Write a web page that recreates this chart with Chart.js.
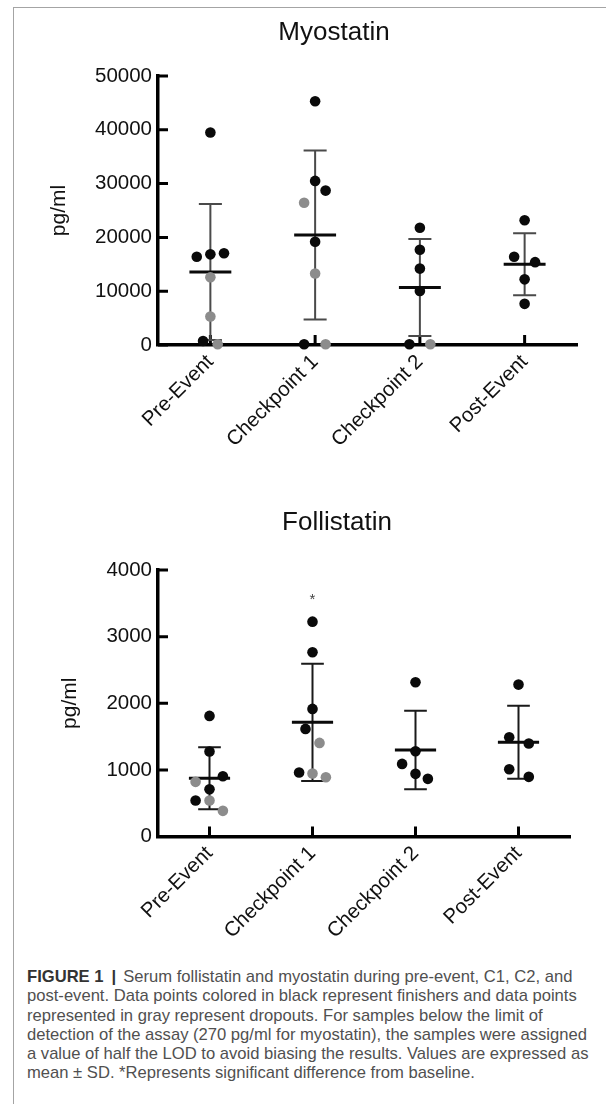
<!DOCTYPE html>
<html lang="en">
<head>
<meta charset="UTF-8">
<title>Figure 1 - Myostatin and Follistatin</title>
<style>
    * {
        margin: 0;
        padding: 0;
        box-sizing: border-box;
    }

    body {
        width: 606px;
        height: 1104px;
        background: #fff;
        position: relative;
        overflow: hidden;
        font-family: 'Liberation Sans', Arial, sans-serif;
    }

    /* thin gray frame round the figure */
    .frame {
        position: absolute;
        left: 13px;
        top: 7px;
        width: 640px;
        height: 1140px;
        border-top: 1px solid #a4a4a4;
        border-left: 1px solid #a4a4a4;
    }

    .chart-box {
        position: absolute;
        left: 0;
        width: 606px;
    }

    #myoBox { top: 0; height: 470px; }
    #follBox { top: 480px; height: 480px; }

    .caption {
        position: absolute;
        left: 27px;
        top: 967px;
        font-size: 16.6px;
        line-height: 19.3px;
        color: #505050;
        white-space: nowrap;
    }

    .caption b {
        color: #333;
    }

    .caption .bar {
        font-weight: bold;
        color: #333;
        margin: 0 7px 0 8px;
    }
</style>
</head>
<body>

<div class="frame"></div>

<div class="chart-box" id="myoBox"><canvas id="myoChart"></canvas></div>
<div class="chart-box" id="follBox"><canvas id="follChart"></canvas></div>

<div class="caption"><b>FIGURE 1</b><span class="bar">|</span>Serum follistatin and myostatin during pre-event, C1, C2, and<br>post-event. Data points colored in black represent finishers and data points<br>represented in gray represent dropouts. For samples below the limit of<br>detection of the assay (270 pg/ml for myostatin), the samples were assigned<br>a value of half the LOD to avoid biasing the results. Values are expressed as<br>mean ± SD. *Represents significant difference from baseline.</div>

<script src="https://cdn.jsdelivr.net/npm/chart.js"></script>
<script>
    const categories = ['Pre-Event', 'Checkpoint 1', 'Checkpoint 2', 'Post-Event'];

    // Myostatin (pg/ml), one list per time point
    const myoFinishers = [
        [39500, 16400, 16850, 17050, 750],
        [45300, 30500, 28700, 19200, 135],
        [21800, 17700, 14200, 10050, 135],
        [23200, 16400, 15400, 12200, 7650]
    ];
    const myoDropouts = [
        [12600, 5300, 135],
        [26450, 13300, 135],
        [135],
        []
    ];
    const myoMean = [13570, 20450, 10680, 15000];
    const myoSD = [12650, 15700, 9030, 5750];
    const myoTicks = [0, 10000, 20000, 30000, 40000, 50000];

    // Follistatin (pg/ml)
    const follFinishers = [
        [1810, 1275, 905, 710, 540],
        [3225, 2765, 1915, 1615, 960],
        [2315, 1280, 1090, 940, 865],
        [2280, 1490, 1395, 1010, 895]
    ];
    const follDropouts = [
        [820, 540, 385],
        [1405, 945, 890],
        [],
        []
    ];
    const follMean = [874, 1714, 1298, 1415];
    const follSD = [466, 880, 590, 548];
    const follTicks = [0, 1000, 2000, 3000, 4000];
    const follSignificant = ['', '*', '', ''];

    // horizontal scatter of the dots (fraction of a category), kept apart from the values
    const myoFinJitter = [[0, -0.13, 0, 0.13, -0.07], [0, 0, 0.1, 0, -0.105], [0, 0, 0, 0, -0.1], [0, -0.1, 0.1, 0, 0]];
    const myoDropJitter = [[0, 0, 0.07], [-0.105, 0, 0.1], [0.1], []];
    const follFinJitter = [[0, 0, 0.13, 0, -0.135], [0, 0, 0, -0.068, -0.13], [0, 0, -0.13, 0, 0.12], [0, -0.09, 0.1, -0.09, 0.1]];
    const follDropJitter = [[-0.135, 0, 0.13], [0.068, 0, 0.13], [], []];

    const FONT = "'Liberation Sans', Arial, sans-serif";
    Chart.defaults.font.family = FONT;
    Chart.defaults.color = '#111';

    function toPoints(groups, jitter) {
        const pts = [];
        groups.forEach((vals, i) => vals.forEach((v, k) => pts.push({ x: i + jitter[i][k], y: v })));
        return pts;
    }

    function meanSegments(mean) {
        const pts = [];
        mean.forEach((m, i) => pts.push({ x: i - 0.2, y: m }, { x: i + 0.2, y: m }, { x: i, y: null }));
        return pts;
    }

    function sdSegments(mean, sd) {
        const pts = [];
        mean.forEach((m, i) => {
            const hi = m + sd[i], lo = m - sd[i];
            pts.push({ x: i, y: lo }, { x: i, y: hi }, { x: i, y: null });
            pts.push({ x: i - 0.11, y: hi }, { x: i + 0.11, y: hi }, { x: i, y: null });
            pts.push({ x: i - 0.11, y: lo }, { x: i + 0.11, y: lo }, { x: i, y: null });
        });
        return pts;
    }

    // ticks pointing into the plot, title, and significance marks
    const prismBits = {
        id: 'prismBits',
        beforeDatasetsDraw(chart) {
            const { ctx, chartArea, scales: { x, y } } = chart;
            ctx.save();
            ctx.strokeStyle = '#000';
            ctx.lineWidth = 3;
            ctx.beginPath();
            x.ticks.forEach(t => {
                const px = x.getPixelForValue(t.value);
                ctx.moveTo(px, chartArea.bottom);
                ctx.lineTo(px, chartArea.bottom - 10);
            });
            y.ticks.forEach(t => {
                const py = y.getPixelForValue(t.value);
                ctx.moveTo(chartArea.left, py);
                ctx.lineTo(chartArea.left + 10, py);
            });
            ctx.stroke();
            ctx.restore();
        },
        afterDraw(chart, args, opts) {
            const { ctx, scales: { x, y } } = chart;
            ctx.save();
            ctx.fillStyle = '#111';
            ctx.textAlign = 'center';
            ctx.textBaseline = 'middle';
            ctx.font = '26px ' + FONT;
            ctx.fillText(opts.title, opts.titleX, opts.titleY);
            if (opts.marks) {
                ctx.font = '15px ' + FONT;
                ctx.fillStyle = '#444';
                opts.marks.forEach((m, i) => {
                    if (!m) return;
                    const top = Math.max(...opts.finishers[i], ...opts.dropouts[i]);
                    ctx.fillText(m, x.getPixelForValue(i), y.getPixelForValue(top) - 22);
                });
            }
            ctx.restore();
        }
    };

    function makeChart(id, cfg) {
        return new Chart(document.getElementById(id), {
            type: 'scatter',
            data: {
                datasets: [
                    {
                        label: 'Finishers',
                        data: toPoints(cfg.finishers, cfg.finJitter),
                        backgroundColor: '#0a0a0a',
                        borderWidth: 0,
                        pointRadius: 5.3,
                        order: 0
                    },
                    {
                        label: 'Dropouts',
                        data: toPoints(cfg.dropouts, cfg.dropJitter),
                        backgroundColor: '#8c8c8c',
                        borderWidth: 0,
                        pointRadius: 5.3,
                        order: 1
                    },
                    {
                        label: 'Mean',
                        data: meanSegments(cfg.mean),
                        showLine: true,
                        spanGaps: false,
                        borderColor: '#0a0a0a',
                        borderWidth: 3,
                        pointRadius: 0,
                        order: 2
                    },
                    {
                        label: 'SD',
                        data: sdSegments(cfg.mean, cfg.sd),
                        showLine: true,
                        spanGaps: false,
                        borderColor: cfg.sdColor,
                        borderWidth: 2,
                        pointRadius: 0,
                        order: 3
                    }
                ]
            },
            options: {
                responsive: true,
                maintainAspectRatio: false,
                animation: false,
                clip: false,
                layout: { padding: { top: cfg.top, right: cfg.right, left: 0, bottom: 0 } },
                plugins: {
                    legend: { display: false },
                    tooltip: { enabled: false },
                    prismBits: {
                        title: cfg.title, titleX: cfg.titleX, titleY: cfg.titleY,
                        marks: cfg.marks, finishers: cfg.finishers, dropouts: cfg.dropouts
                    }
                },
                scales: {
                    x: {
                        type: 'linear',
                        min: -0.5,
                        max: categories.length - 0.5,
                        afterBuildTicks: s => { s.ticks = categories.map((c, i) => ({ value: i })); },
                        afterFit: s => { s.height = cfg.xHeight; },
                        grid: { drawOnChartArea: false, drawTicks: false },
                        border: { display: true, color: '#000', width: 3.5 },
                        ticks: {
                            callback: v => categories[v],
                            minRotation: 45,
                            maxRotation: 45,
                            padding: 5,
                            color: '#111',
                            font: { size: 20.5 }
                        }
                    },
                    y: {
                        min: 0,
                        max: cfg.ticks[cfg.ticks.length - 1],
                        afterBuildTicks: s => { s.ticks = cfg.ticks.map(v => ({ value: v })); },
                        afterFit: s => { s.width = 158; },
                        grid: { drawOnChartArea: false, drawTicks: false },
                        border: { display: true, color: '#000', width: 3.5 },
                        ticks: { callback: v => String(v), padding: 6, color: '#111', font: { size: 20.5 } },
                        title: {
                            display: true,
                            text: 'pg/ml',
                            color: '#111',
                            font: { size: 21 },
                            padding: { top: cfg.yTitlePad, bottom: 0 }
                        }
                    }
                }
            },
            plugins: [prismBits]
        });
    }

    makeChart('myoChart', {
        title: 'Myostatin', titleX: 334, titleY: 33,
        finishers: myoFinishers, dropouts: myoDropouts,
        finJitter: myoFinJitter, dropJitter: myoDropJitter,
        mean: myoMean, sd: myoSD, ticks: myoTicks,
        sdColor: '#4a4a4a',
        top: 76, right: 29, xHeight: 125, yTitlePad: 47
    });

    makeChart('follChart', {
        title: 'Follistatin', titleX: 337, titleY: 43,
        finishers: follFinishers, dropouts: follDropouts,
        finJitter: follFinJitter, dropJitter: follDropJitter,
        mean: follMean, sd: follSD, ticks: follTicks,
        marks: follSignificant,
        sdColor: '#1a1a1a',
        top: 90, right: 36, xHeight: 123.5, yTitlePad: 58
    });
</script>
</body>
</html>
